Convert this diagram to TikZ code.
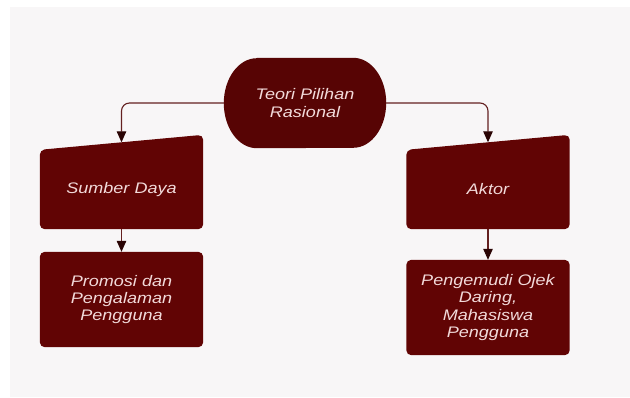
\documentclass[tikz,border=0pt]{standalone}
\usepackage{fontspec}
\setmainfont{Liberation Sans}[FakeStretch=1.18]
\usetikzlibrary{arrows.meta,calc,backgrounds}
\definecolor{panel}{HTML}{F8F6F7}
\definecolor{boxred}{HTML}{610404}
\definecolor{topred}{HTML}{570404}
\definecolor{boxtext}{HTML}{F2DADA}
\definecolor{linkred}{HTML}{642020}
\definecolor{tipred}{HTML}{2A0404}
\tikzset{box/.style={minimum width=163pt,inner sep=0pt,text width=150pt,align=center,
		text=boxtext,font=\fontsize{15.3}{17.4}\selectfont\itshape},
	link/.style={draw=linkred,line width=1.1pt,rounded corners=8pt,
		-{Triangle[width=9.5pt,length=11pt,color=tipred]}}}
\begin{document}
\begin{tikzpicture}[x=1pt,y=-1pt]
		\begin{scope}[every node/.style={box}]
			\node[minimum width=162pt,minimum height=90pt] (teori) at (305,103) {Teori Pilihan\\Rasional};
			\node[minimum height=79pt] (sumber) at (121.5,189.5) {Sumber Daya};
			\node[minimum height=79pt] (aktor) at (488,189.5) {Aktor};
			\node[minimum height=95pt] (promosi) at (121.5,299.5) {Promosi dan\\Pengalaman\\Pengguna};
			\node[minimum height=95pt] (pengemudi) at (488,307.5) {Pengemudi Ojek\\Daring,\\Mahasiswa\\Pengguna};
		\end{scope}
		% shapes behind the texts
		\begin{scope}[on background layer]
			\fill[white] (0,0) rectangle (630,397);
			\fill[panel] (10,7) rectangle (630,397);
			\fill[topred] ([xshift=33pt]teori.north west) -- ([xshift=-33pt]teori.north east)
				arc[start angle=90,end angle=-90,x radius=33pt,y radius=45pt]
				-- ([xshift=33pt]teori.south west)
				arc[start angle=270,end angle=90,x radius=33pt,y radius=45pt] -- cycle;
			\foreach \n in {sumber,aktor}
				\fill[boxred,rounded corners=5pt] (\n.north west) -- ([yshift=15pt]\n.north east)
					-- (\n.south east) -- (\n.south west) -- cycle;
			\foreach \n in {promosi,pengemudi}
				\fill[boxred,rounded corners=5pt] (\n.north west) rectangle (\n.south east);
		\end{scope}
		% middle of the slanted tops
		\coordinate (sumber top) at ($(sumber.north west)!0.5!([yshift=15pt]sumber.north east)$);
		\coordinate (aktor top) at ($(aktor.north west)!0.5!([yshift=15pt]aktor.north east)$);
		\draw[link] (teori.west) -| (sumber top);
		\draw[link] (teori.east) -| (aktor top);
		\draw[link] (sumber) -- (promosi);
		\draw[link] (aktor) -- (pengemudi);
	\end{tikzpicture}
\end{document}
